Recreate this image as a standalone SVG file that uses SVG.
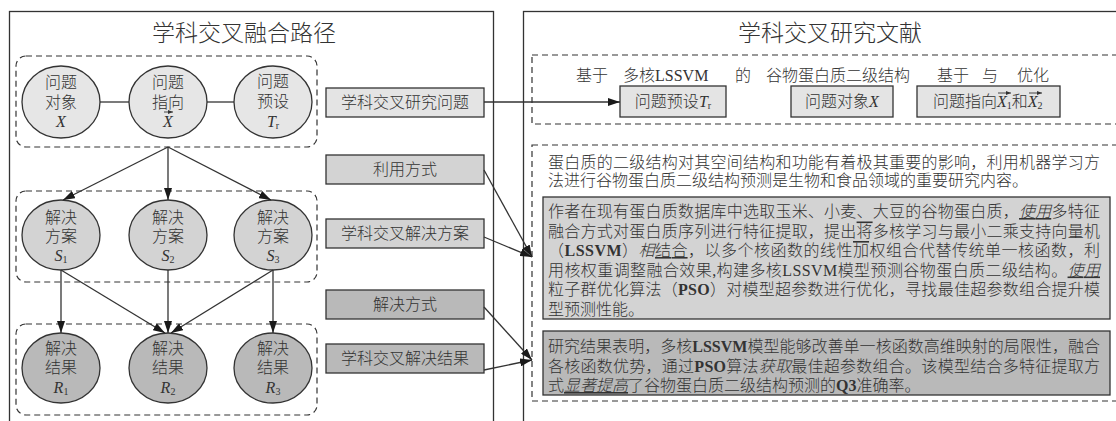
<svg xmlns="http://www.w3.org/2000/svg" width="1116" height="421" viewBox="0 0 1116 421">
<style>
text{font-family:"Liberation Serif","Noto Sans CJK SC",serif;fill:#333;font-weight:300}
.title{font-size:23px;text-anchor:middle}
.n{font-size:16px;text-anchor:middle}
.p{font-size:16px}
.i{font-style:italic}
.sub{font-size:10px;font-style:normal}
.b{font-weight:bold}
.u{text-decoration:underline}
.o{text-decoration:overline}
.panel{fill:none;stroke:#333;stroke-width:1.3}
.dash{fill:none;stroke:#333;stroke-width:1.2;stroke-dasharray:6 4}
.e1{fill:#e6e6e6;stroke:#333;stroke-width:1.3}
.e2{fill:#d3d3d3;stroke:#333;stroke-width:1.3}
.e3{fill:#b9b9b9;stroke:#333;stroke-width:1.3}
.ln{stroke:#333;stroke-width:1.3;fill:none}
.arr{marker-end:url(#ah)}
.va{stroke:#333;stroke-width:0.9;fill:none;marker-end:url(#sa)}
</style>
<defs>
<marker id="ah" viewBox="0 0 12 8" refX="12" refY="4" markerWidth="12" markerHeight="8" markerUnits="userSpaceOnUse" orient="auto"><path d="M0,0 L12,4 L0,8 z" fill="#1a1a1a"/></marker>
<marker id="sa" viewBox="0 0 5 4" refX="5" refY="2" markerWidth="5" markerHeight="4" markerUnits="userSpaceOnUse" orient="auto"><path d="M0,0 L5,2 L0,4 z" fill="#333"/></marker>
</defs>
<rect width="1116" height="421" fill="#fff"/>

<g id="panel-left">
<rect class="panel" x="9.5" y="11.5" width="484" height="440"/>
<text class="title" x="244" y="41">学科交叉融合路径</text>
<rect class="dash" x="16" y="56" width="301" height="91" rx="10"/>
<rect class="dash" x="16" y="191" width="301" height="91" rx="10"/>
<rect class="dash" x="16" y="324" width="301" height="91" rx="10"/>
</g>

<g id="panel-right">
<rect class="panel" x="523.5" y="11.5" width="640" height="440"/>
<text class="title" x="830" y="41">学科交叉研究文献</text>
<rect class="dash" x="532" y="55" width="620" height="69"/>
<rect class="dash" x="532" y="145" width="620" height="256"/>
<text class="p" x="576" y="81">基于</text>
<text class="p" x="623" y="81">多核LSSVM</text>
<text class="p" x="735" y="81">的</text>
<text class="p" x="766" y="81">谷物蛋白质二级结构</text>
<text class="p" x="937" y="81">基于</text>
<text class="p" x="982" y="81">与</text>
<text class="p" x="1017" y="81">优化</text>
</g>

<g id="node-x">
<ellipse class="e1" cx="61" cy="102" rx="39" ry="36"/>
<text class="n" x="61" y="88">问题</text>
<text class="n" x="61" y="108">对象</text>
<text class="n i" x="61" y="127">X</text>
</g>
<g id="node-xvec">
<ellipse class="e1" cx="168" cy="102" rx="39" ry="36"/>
<text class="n" x="168" y="88">问题</text>
<text class="n" x="168" y="108">指向</text>
<text class="n i" x="168" y="127">X</text>
<path class="va" d="M164,112 H173"/>
</g>
<g id="node-tr">
<ellipse class="e1" cx="273" cy="102" rx="39" ry="36"/>
<text class="n" x="273" y="87">问题</text>
<text class="n" x="273" y="107">预设</text>
<text class="n" x="273" y="127"><tspan class="i">T</tspan><tspan class="sub i" dy="2">r</tspan></text>
</g>

<g id="node-s1">
<ellipse class="e2" cx="61" cy="235" rx="39" ry="35"/>
<text class="n" x="61" y="223">解决</text>
<text class="n" x="61" y="242">方案</text>
<text class="n" x="61" y="261"><tspan class="i">S</tspan><tspan class="sub" dy="2">1</tspan></text>
</g>
<g id="node-s2">
<ellipse class="e2" cx="168" cy="235" rx="39" ry="35"/>
<text class="n" x="168" y="223">解决</text>
<text class="n" x="168" y="242">方案</text>
<text class="n" x="168" y="261"><tspan class="i">S</tspan><tspan class="sub" dy="2">2</tspan></text>
</g>
<g id="node-s3">
<ellipse class="e2" cx="273" cy="235" rx="39" ry="35"/>
<text class="n" x="273" y="223">解决</text>
<text class="n" x="273" y="242">方案</text>
<text class="n" x="273" y="261"><tspan class="i">S</tspan><tspan class="sub" dy="2">3</tspan></text>
</g>

<g id="node-r1">
<ellipse class="e3" cx="61" cy="368" rx="39" ry="35"/>
<text class="n" x="61" y="354">解决</text>
<text class="n" x="61" y="373">结果</text>
<text class="n" x="61" y="393"><tspan class="i">R</tspan><tspan class="sub" dy="2">1</tspan></text>
</g>
<g id="node-r2">
<ellipse class="e3" cx="168" cy="368" rx="39" ry="35"/>
<text class="n" x="168" y="354">解决</text>
<text class="n" x="168" y="373">结果</text>
<text class="n" x="168" y="393"><tspan class="i">R</tspan><tspan class="sub" dy="2">2</tspan></text>
</g>
<g id="node-r3">
<ellipse class="e3" cx="273" cy="368" rx="39" ry="35"/>
<text class="n" x="273" y="354">解决</text>
<text class="n" x="273" y="373">结果</text>
<text class="n" x="273" y="393"><tspan class="i">R</tspan><tspan class="sub" dy="2">3</tspan></text>
</g>

<g id="box-question">
<rect x="326" y="88" width="158" height="29" fill="#e4e4e4" stroke="#333" stroke-width="1.3"/>
<text class="n" x="405" y="108">学科交叉研究问题</text>
</g>
<g id="box-use">
<rect x="326" y="155" width="158" height="29" fill="#d3d3d3" stroke="#333" stroke-width="1.3"/>
<text class="n" x="405" y="175">利用方式</text>
</g>
<g id="box-solution">
<rect x="326" y="219" width="158" height="29" fill="#d3d3d3" stroke="#333" stroke-width="1.3"/>
<text class="n" x="405" y="239">学科交叉解决方案</text>
</g>
<g id="box-method">
<rect x="326" y="290" width="158" height="29" fill="#b9b9b9" stroke="#333" stroke-width="1.3"/>
<text class="n" x="405" y="310">解决方式</text>
</g>
<g id="box-result">
<rect x="326" y="344" width="158" height="29" fill="#b9b9b9" stroke="#333" stroke-width="1.3"/>
<text class="n" x="405" y="364">学科交叉解决结果</text>
</g>

<g id="box-tr">
<rect x="620" y="86" width="106" height="31" fill="#e4e4e4" stroke="#333" stroke-width="1.3"/>
<text class="n" x="673" y="107">问题预设<tspan class="i">T</tspan><tspan class="sub i" dy="2">r</tspan></text>
</g>
<g id="box-x">
<rect x="791" y="86" width="102" height="31" fill="#e4e4e4" stroke="#333" stroke-width="1.3"/>
<text class="n" x="842" y="107">问题对象<tspan class="i">X</tspan></text>
</g>
<g id="box-xvec">
<rect x="917" y="86" width="143" height="31" fill="#e4e4e4" stroke="#333" stroke-width="1.3"/>
<text class="p" x="933" y="107">问题指向<tspan class="i">X</tspan><tspan class="sub" dy="2">1</tspan><tspan dy="-2">和</tspan><tspan class="i">X</tspan><tspan class="sub" dy="2">2</tspan></text>
<path class="va" d="M998,93 H1011"/>
<path class="va" d="M1029,93 H1042"/>
</g>

<g id="text-intro">
<text class="p" x="548" y="168" textLength="552" lengthAdjust="spacing">蛋白质的二级结构对其空间结构和功能有着极其重要的影响，利用机器学习方</text>
<text class="p" x="548" y="186">法进行谷物蛋白质二级结构预测是生物和食品领域的重要研究内容。</text>
</g>

<g id="box-method-text">
<rect x="543" y="197" width="567" height="122" fill="#d3d3d3" stroke="#333" stroke-width="1.3"/>
<text class="p" x="548" y="217" textLength="552" lengthAdjust="spacing">作者在现有蛋白质数据库中选取玉米、小麦、大豆的谷物蛋白质，<tspan class="i u">使用</tspan>多特征</text>
<text class="p" x="548" y="236.5" textLength="552" lengthAdjust="spacing">融合方式对蛋白质序列进行特征提取，提出<tspan class="o">将</tspan>多核学习与最小二乘支持向量机</text>
<text class="p" x="548" y="256" textLength="552" lengthAdjust="spacing">（<tspan class="b">LSSVM</tspan>）<tspan class="i">相</tspan><tspan class="u">结合</tspan>，以多个核函数的线性<tspan class="o">加</tspan>权组合代替传统单一核函数，利</text>
<text class="p" x="548" y="275.5" textLength="552" lengthAdjust="spacing">用核权重调整融合效果,构建多核LSSVM模型预测谷物蛋白质二级结构。<tspan class="i u">使用</tspan></text>
<text class="p" x="548" y="295" textLength="552" lengthAdjust="spacing">粒子群优化算法（<tspan class="b">PSO</tspan>）对模型超参数进行优化，寻找最佳超参数组合提升模</text>
<text class="p" x="548" y="314.5">型预测性能。</text>
</g>

<g id="box-result-text">
<rect x="543" y="331" width="567" height="64" fill="#b9b9b9" stroke="#333" stroke-width="1.3"/>
<text class="p" x="548" y="352" textLength="552" lengthAdjust="spacing">研究结果表明，多核<tspan class="b">LSSVM</tspan>模型能够改善单一核函数高维映射的局限性，融合</text>
<text class="p" x="548" y="371.5" textLength="552" lengthAdjust="spacing">各核函数优势，通过<tspan class="b">PSO</tspan>算法<tspan class="i">获取</tspan>最佳超参数组合。该模型结合多特征提取方</text>
<text class="p" x="548" y="391">式<tspan class="i u">显著提高</tspan>了谷物蛋白质二级结构预测的<tspan class="b">Q3</tspan>准确率。</text>
</g>

<g id="connectors">
<line class="ln" x1="100" y1="102" x2="129" y2="102"/>
<line class="ln" x1="207" y1="102" x2="234" y2="102"/>
<path class="ln arr" d="M168,147 L63,200"/>
<path class="ln arr" d="M168,147 L168,200"/>
<path class="ln arr" d="M168,147 L271,200"/>
<path class="ln arr" d="M61,270 L61,333"/>
<path class="ln arr" d="M61,270 L165,333"/>
<path class="ln arr" d="M168,270 L168,333"/>
<path class="ln arr" d="M273,270 L171,333"/>
<path class="ln arr" d="M273,270 L273,333"/>
<path class="ln arr" d="M484,102 L620,102"/>
<path class="ln arr" d="M484,170 L532,257"/>
<path class="ln arr" d="M484,237 L532,257"/>
<path class="ln arr" d="M484,307 L532,360"/>
<path class="ln arr" d="M484,370 L532,360"/>
</g>
</svg>
